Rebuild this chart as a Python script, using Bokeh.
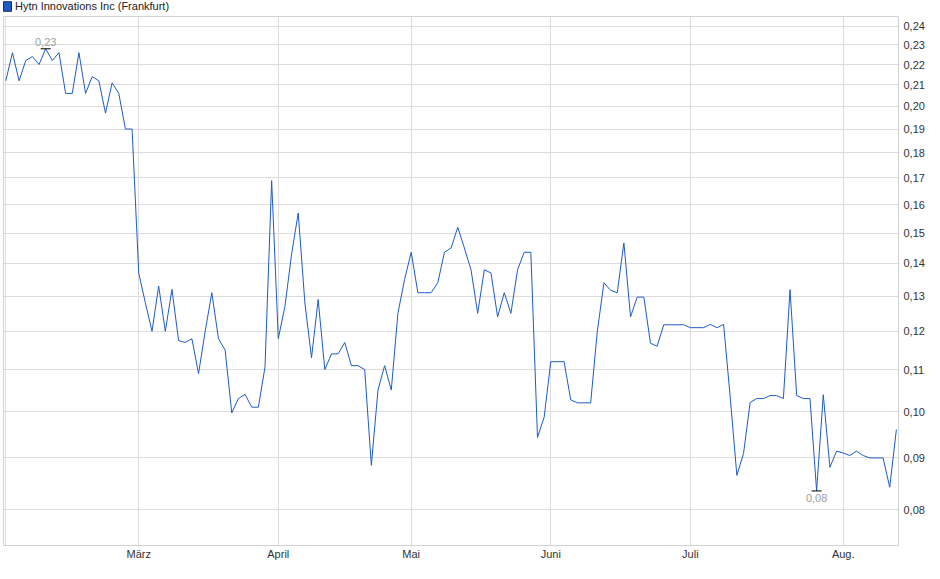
import numpy as np
from bokeh.plotting import figure
from bokeh.models import (FixedTicker, CustomJSTickFormatter, Range1d, Legend,
                          LegendItem, ColumnDataSource)
from bokeh.core.properties import value
from bokeh.embed import file_html
from bokeh.resources import INLINE

# ---------------- data ----------------
series_name = "Hytn Innovations Inc (Frankfurt)"

# closing prices (EUR), one per trading day
prices = [
    0.212, 0.226, 0.212, 0.222, 0.224, 0.220, 0.228, 0.222, 0.226, 0.206,
    0.206, 0.226, 0.206, 0.214, 0.212, 0.197, 0.211, 0.206, 0.190, 0.190,
    0.137, 0.128, 0.120, 0.133, 0.120, 0.132, 0.1175, 0.117, 0.118, 0.109,
    0.120, 0.131, 0.118, 0.115, 0.0997, 0.103, 0.104, 0.101, 0.101, 0.1106,
    0.169, 0.118, 0.127, 0.143, 0.157, 0.128, 0.113, 0.129, 0.110, 0.114,
    0.114, 0.117, 0.111, 0.111, 0.110, 0.0885, 0.105, 0.111, 0.105, 0.125,
    0.135, 0.1436, 0.131, 0.131, 0.131, 0.134, 0.1436, 0.145, 0.152, 0.145,
    0.138, 0.125, 0.138, 0.137, 0.124, 0.131, 0.125, 0.138, 0.1436, 0.1436,
    0.0943, 0.0987, 0.112, 0.112, 0.112, 0.1027, 0.102, 0.102, 0.102, 0.120,
    0.134, 0.1317, 0.131, 0.1467, 0.124, 0.1297, 0.1297, 0.1168, 0.116, 0.1218,
    0.1218, 0.1218, 0.1218, 0.121, 0.121, 0.121, 0.1219, 0.121, 0.1219, 0.1033,
    0.0865, 0.0909, 0.1021, 0.103, 0.103, 0.1037, 0.1037, 0.103, 0.1319, 0.1037,
    0.103, 0.103, 0.0835, 0.1039, 0.0881, 0.0914, 0.091, 0.0905, 0.0914, 0.0905,
    0.090, 0.090, 0.090, 0.0842, 0.096,
]

# first trading day (point index) of each month, and month labels
month_first_point = [0, 20, 41, 61, 82, 103, 126]
month_labels = ["", "März", "April", "Mai", "Juni", "Juli", "Aug."]

price_ticks = [0.08, 0.09, 0.10, 0.11, 0.12, 0.13, 0.14, 0.15, 0.16,
               0.17, 0.18, 0.19, 0.20, 0.21, 0.22, 0.23, 0.24]

# ---------------- layout / styling ----------------
FONT = "Liberation Sans"
LINE_COLOR = "#1f5bc6"
GRID_COLOR = "#dddddd"
BOX_COLOR = "#d2d2d2"

# visible ranges (the frame also holds the legend strip at its top)
X_RANGE = (-0.497, len(prices) - 1 + 0.47)
Y_RANGE = (0.0736, 0.25443)
# chart box drawn inside the frame (legend strip sits above it)
BOX_X = (-0.346, len(prices) - 1 + 0.32)
BOX_Y = (0.07377, 0.24535)


def fmt(v):
    return f"{v:.2f}".replace(".", ",")


idx = list(range(len(prices)))
src = ColumnDataSource(dict(i=idx, v=prices))

p = figure(frame_width=897, frame_height=546, output_backend="svg",
           toolbar_location=None,
           y_axis_type="log", y_axis_location="right",
           x_range=Range1d(*X_RANGE), y_range=Range1d(*Y_RANGE),
           min_border_left=2, min_border_right=31, min_border_top=0,
           min_border_bottom=17)

p.background_fill_color = "white"
p.border_fill_color = "white"
p.outline_line_color = None

# x axis (months)
p.xaxis.ticker = FixedTicker(ticks=month_first_point)
p.xaxis.major_label_overrides = dict(zip(month_first_point, month_labels))
p.xaxis.axis_line_color = None
p.xaxis.major_tick_line_color = None
p.xaxis.minor_tick_line_color = None
p.xaxis.major_tick_out = 0
p.xaxis.major_tick_in = 0
p.xaxis.major_label_standoff = 1
p.xaxis.major_label_text_font = FONT
p.xaxis.major_label_text_font_size = "11px"
p.xaxis.major_label_text_color = "#333333"

# y axis (log, right)
p.yaxis.ticker = FixedTicker(ticks=price_ticks)
p.yaxis.formatter = CustomJSTickFormatter(code="return tick.toFixed(2).replace('.', ',');")
p.yaxis.axis_line_color = None
p.yaxis.major_tick_line_color = None
p.yaxis.minor_tick_line_color = None
p.yaxis.major_tick_out = 0
p.yaxis.major_tick_in = 0
p.yaxis.major_label_standoff = 4
p.yaxis.major_label_text_font = FONT
p.yaxis.major_label_text_font_size = "11px"
p.yaxis.major_label_text_color = "#333333"

p.xgrid.grid_line_color = GRID_COLOR
p.ygrid.grid_line_color = GRID_COLOR

# white strip above the chart box (hides grid lines behind the legend)
p.quad(left=[X_RANGE[0]], right=[X_RANGE[1]], bottom=[BOX_Y[1]], top=[Y_RANGE[1]],
       fill_color="white", line_color=None)
# chart box outline
p.quad(left=[BOX_X[0]], right=[BOX_X[1]], bottom=[BOX_Y[0]], top=[BOX_Y[1]],
       fill_color=None, line_color=BOX_COLOR, line_width=1)

# price line
p.line("i", "v", source=src, line_color=LINE_COLOR, line_width=1)

# max / min markers
imax = int(np.argmax(prices))
imin = int(np.argmin(prices))
p.scatter([imax, imin], [prices[imax], prices[imin]], marker="dash", size=10,
          line_color="black", line_width=1)
p.text(x=[imax], y=[prices[imax]], text=[fmt(prices[imax])], text_align="center",
       text_baseline="bottom", y_offset=-3, text_color="#a0a0a0",
       text_font=value(FONT), text_font_size=value("11px"))
p.text(x=[imin], y=[prices[imin]], text=[fmt(prices[imin])], text_align="center",
       text_baseline="top", y_offset=3, text_color="#a0a0a0",
       text_font=value(FONT), text_font_size=value("11px"))

# legend swatch: hidden square glyph over the price data, used only for the legend icon
swatch = p.quad(left="i", right="i", top="v", bottom="v", source=src,
                fill_color=LINE_COLOR, line_color="#16305e", visible=False)
legend = Legend(items=[LegendItem(label=series_name, renderers=[swatch])],
                location="top_left", orientation="horizontal",
                padding=0, margin=0, spacing=0,
                border_line_color=None, background_fill_alpha=0,
                glyph_width=10, glyph_height=12, label_height=12,
                label_standoff=3, label_text_font=FONT,
                label_text_font_size="11px", label_text_color="#222222")
p.add_layout(legend)

with open("out.html", "w", encoding="utf-8") as f:
    f.write(file_html(p, INLINE))
